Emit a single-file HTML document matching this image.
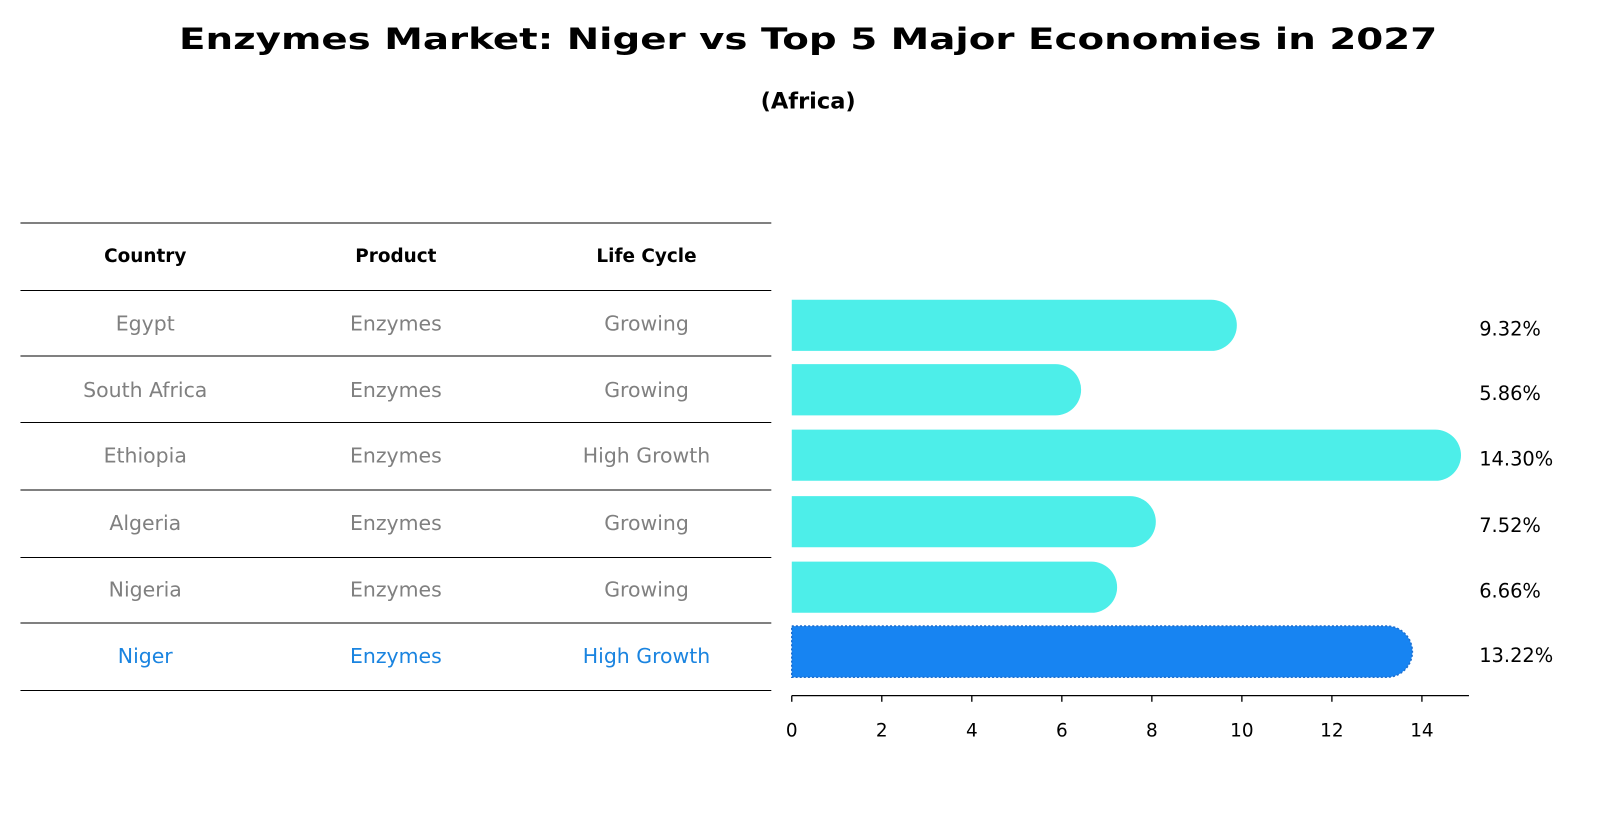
<!DOCTYPE html>
<html><head><meta charset="utf-8"><style>
body{margin:0;background:#fff;}
</style></head><body>
<svg width="1604" height="823" viewBox="0 0 1568 804.5" preserveAspectRatio="none" xmlns="http://www.w3.org/2000/svg" font-family="DejaVu Sans, Liberation Sans, sans-serif">
<text x="790" y="48" text-anchor="middle" font-size="29" font-weight="bold" textLength="1230" lengthAdjust="spacingAndGlyphs">Enzymes Market: Niger vs Top 5 Major Economies in 2027</text>
<text x="790" y="106" text-anchor="middle" font-size="22" font-weight="bold">(Africa)</text>
<g id="table"></g>
<g id="bars"></g>
</svg>
<script>
const countries=["Egypt","South Africa","Ethiopia","Algeria","Nigeria","Niger"];
const products=["Enzymes","Enzymes","Enzymes","Enzymes","Enzymes","Enzymes"];
const lifecycle=["Growing","Growing","High Growth","Growing","Growing","High Growth"];
const values=[9.32,5.86,14.30,7.52,6.66,13.22];
const valueLabels=["9.32%","5.86%","14.30%","7.52%","6.66%","13.22%"];
const ticks=[0,2,4,6,8,10,12,14];
const NS="http://www.w3.org/2000/svg";
function mk(tag,attrs,parent,text){const e=document.createElementNS(NS,tag);for(const k in attrs)e.setAttribute(k,attrs[k]);if(text!==undefined)e.textContent=text;parent.appendChild(e);return e;}
const tbl=document.getElementById('table');
const lines=[218,284,348,413,479,545,609,675];
lines.forEach(y=>{const l=mk('line',{x1:20,x2:754,y1:y,y2:y,stroke:'#000','stroke-width':1},tbl);

});
const cols=[142,387,632];
["Country","Product","Life Cycle"].forEach((h,i)=>{const t=mk('text',{x:cols[i],y:256,'text-anchor':'middle','font-size':18,'font-weight':'bold'},tbl,h);

});
const rowY=[316,381,445,511,576,641];
countries.forEach((c,r)=>{const col=r===5?'#1a84e0':'#808080';[c,products[r],lifecycle[r]].forEach((v,i)=>{
const t=mk('text',{x:cols[i],y:rowY[r]+7,'text-anchor':'middle','font-size':20,fill:col},tbl,v);

});});
const g=document.getElementById('bars');
const x0=774,sc=44;const xs=v=>x0+v*sc;
const barC=[318,381,445,510,574,637];const bh=50;
values.forEach((v,i)=>{const w=xs(v)-x0,y=barC[i]-bh/2,r=bh/2;
const d=`M${x0},${y} H${x0+w} A${r},${r} 0 0 1 ${x0+w},${y+bh} H${x0} Z`;
const niger=i===5;
const p=mk('path',{d:d,fill:niger?'#1784f2':'#4deee9',stroke:niger?'#1e6fd0':'none','stroke-width':niger?1.5:0,'stroke-dasharray':niger?'2,2':'none'},g);


const t=mk('text',{x:1446,y:barC[i]+10,'font-size':19},g,valueLabels[i]);

});
const ax=mk('line',{x1:x0,x2:1436,y1:680,y2:680,stroke:'#000','stroke-width':1.3},g);


ticks.forEach(t=>{const l=mk('line',{x1:xs(t),x2:xs(t),y1:680,y2:686,stroke:'#000','stroke-width':1.3},g);


const tx=mk('text',{x:xs(t),y:720,'text-anchor':'middle','font-size':18},g,String(t));

});
</script>
</body></html>
